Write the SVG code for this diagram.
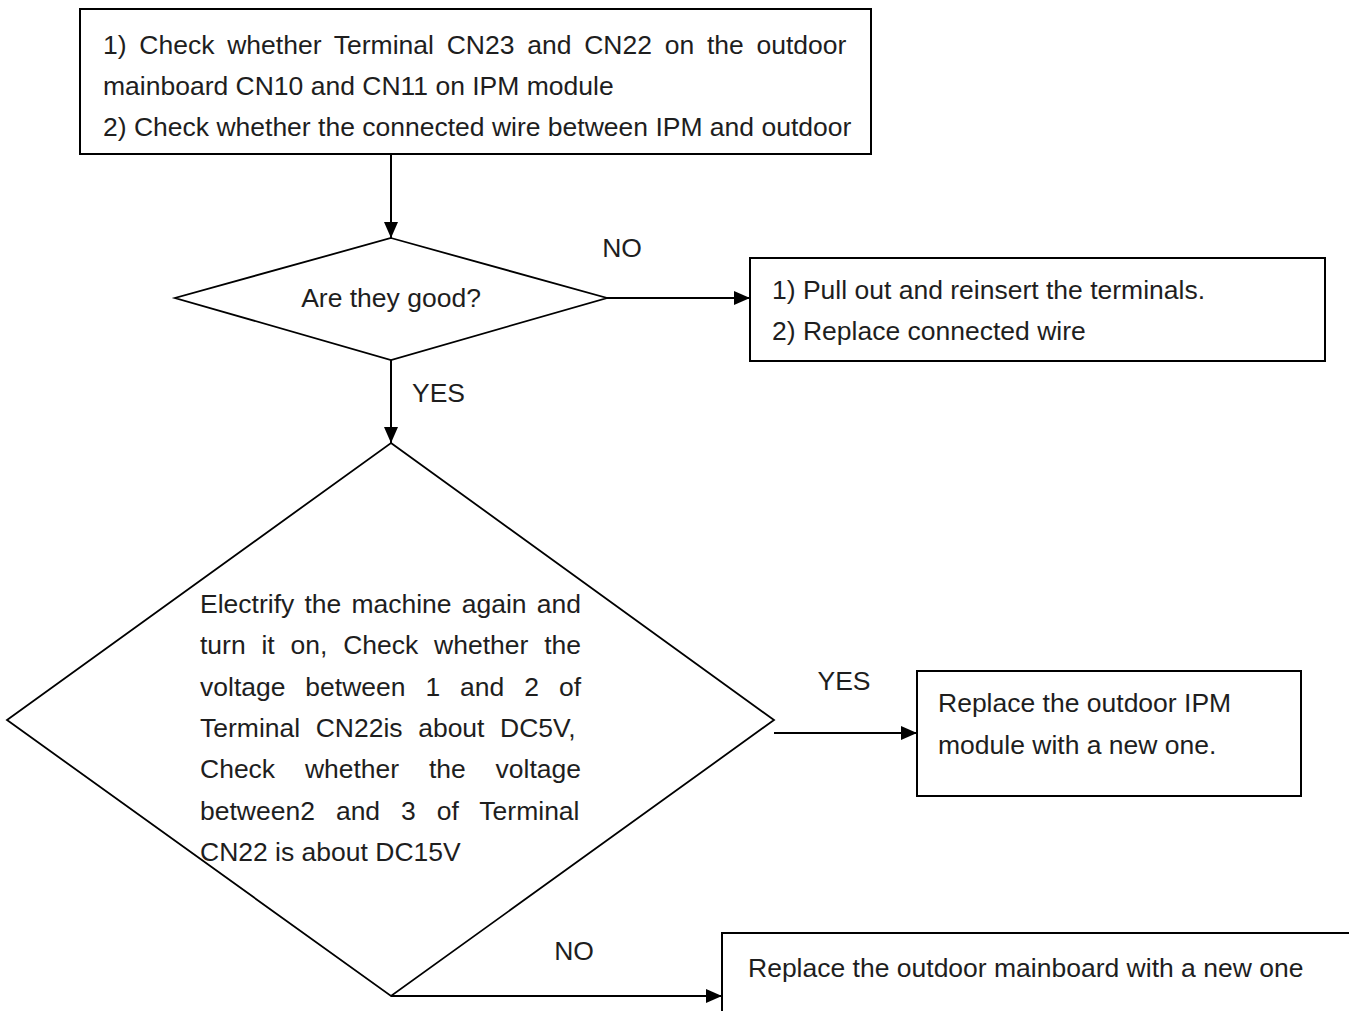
<svg xmlns="http://www.w3.org/2000/svg" width="1349" height="1011" viewBox="0 0 1349 1011">
<style>
  .box { fill: #fff; stroke: #000; stroke-width: 2; }
  .dia { fill: #fff; stroke: #000; stroke-width: 1.8; }
  .t { font-family: "Liberation Sans", Arial, sans-serif; font-size: 26.5px; fill: #1e1e1e; }
  .c { text-anchor: middle; }
  .conn { stroke: #000; stroke-width: 2; fill: none; marker-end: url(#arr); }
</style>
<defs>
  <marker id="arr" markerUnits="userSpaceOnUse" markerWidth="16" markerHeight="14" refX="16" refY="7" orient="auto">
    <path d="M0,0 L16,7 L0,14 Z" fill="#000"/>
  </marker>
</defs>
<rect width="1349" height="1011" fill="#fff"/>

<g id="connectors">
  <line class="conn" x1="391" y1="154" x2="391" y2="238"/>
  <line class="conn" x1="607" y1="298" x2="750" y2="298"/>
  <line class="conn" x1="391" y1="360" x2="391" y2="443"/>
  <line class="conn" x1="774" y1="733" x2="917" y2="733"/>
  <line class="conn" x1="391" y1="996" x2="722" y2="996"/>
  <text class="t c" x="622" y="257">NO</text>
  <text class="t" x="412" y="402">YES</text>
  <text class="t c" x="844" y="690">YES</text>
  <text class="t c" x="574" y="960">NO</text>
</g>

<g id="start">
  <rect class="box" x="80" y="9" width="791" height="145"/>
  <text class="t" x="103" y="54" style="word-spacing:5.4px">1) Check whether Terminal CN23 and CN22 on the outdoor</text>
  <text class="t" x="103" y="95">mainboard CN10 and CN11 on IPM module</text>
  <text class="t" x="103" y="136">2) Check whether the connected wire between IPM and outdoor</text>
</g>

<g id="check1">
  <polygon class="dia" points="391,238 607,298 391,360 175,298"/>
  <text class="t c" x="391" y="307">Are they good?</text>
</g>

<g id="fix1">
  <rect class="box" x="750" y="258" width="575" height="103"/>
  <text class="t" x="772" y="299">1) Pull out and reinsert the terminals.</text>
  <text class="t" x="772" y="340">2) Replace connected wire</text>
</g>

<g id="check2">
  <polygon class="dia" points="391,443 774,720 391,996 7,720"/>
  <text class="t" x="200" y="613" style="word-spacing:2.8px">Electrify the machine again and</text>
  <text class="t" x="200" y="654" style="word-spacing:8.45px">turn it on, Check whether the</text>
  <text class="t" x="200" y="696" style="word-spacing:12.55px">voltage between 1 and 2 of</text>
  <text class="t" x="200" y="737" style="word-spacing:8.2px">Terminal CN22is about DC5V,</text>
  <text class="t" x="200" y="778" style="word-spacing:22.4px">Check whether the voltage</text>
  <text class="t" x="200" y="820" style="word-spacing:13.6px">between2 and 3 of Terminal</text>
  <text class="t" x="200" y="861">CN22 is about DC15V</text>
</g>

<g id="fix2">
  <rect class="box" x="917" y="671" width="384" height="125"/>
  <text class="t" x="938" y="712">Replace the outdoor IPM</text>
  <text class="t" x="938" y="754">module with a new one.</text>
</g>

<g id="fix3">
  <rect class="box" x="722" y="933" width="640" height="100"/>
  <text class="t" x="748" y="977">Replace the outdoor mainboard with a new one</text>
</g>
</svg>
